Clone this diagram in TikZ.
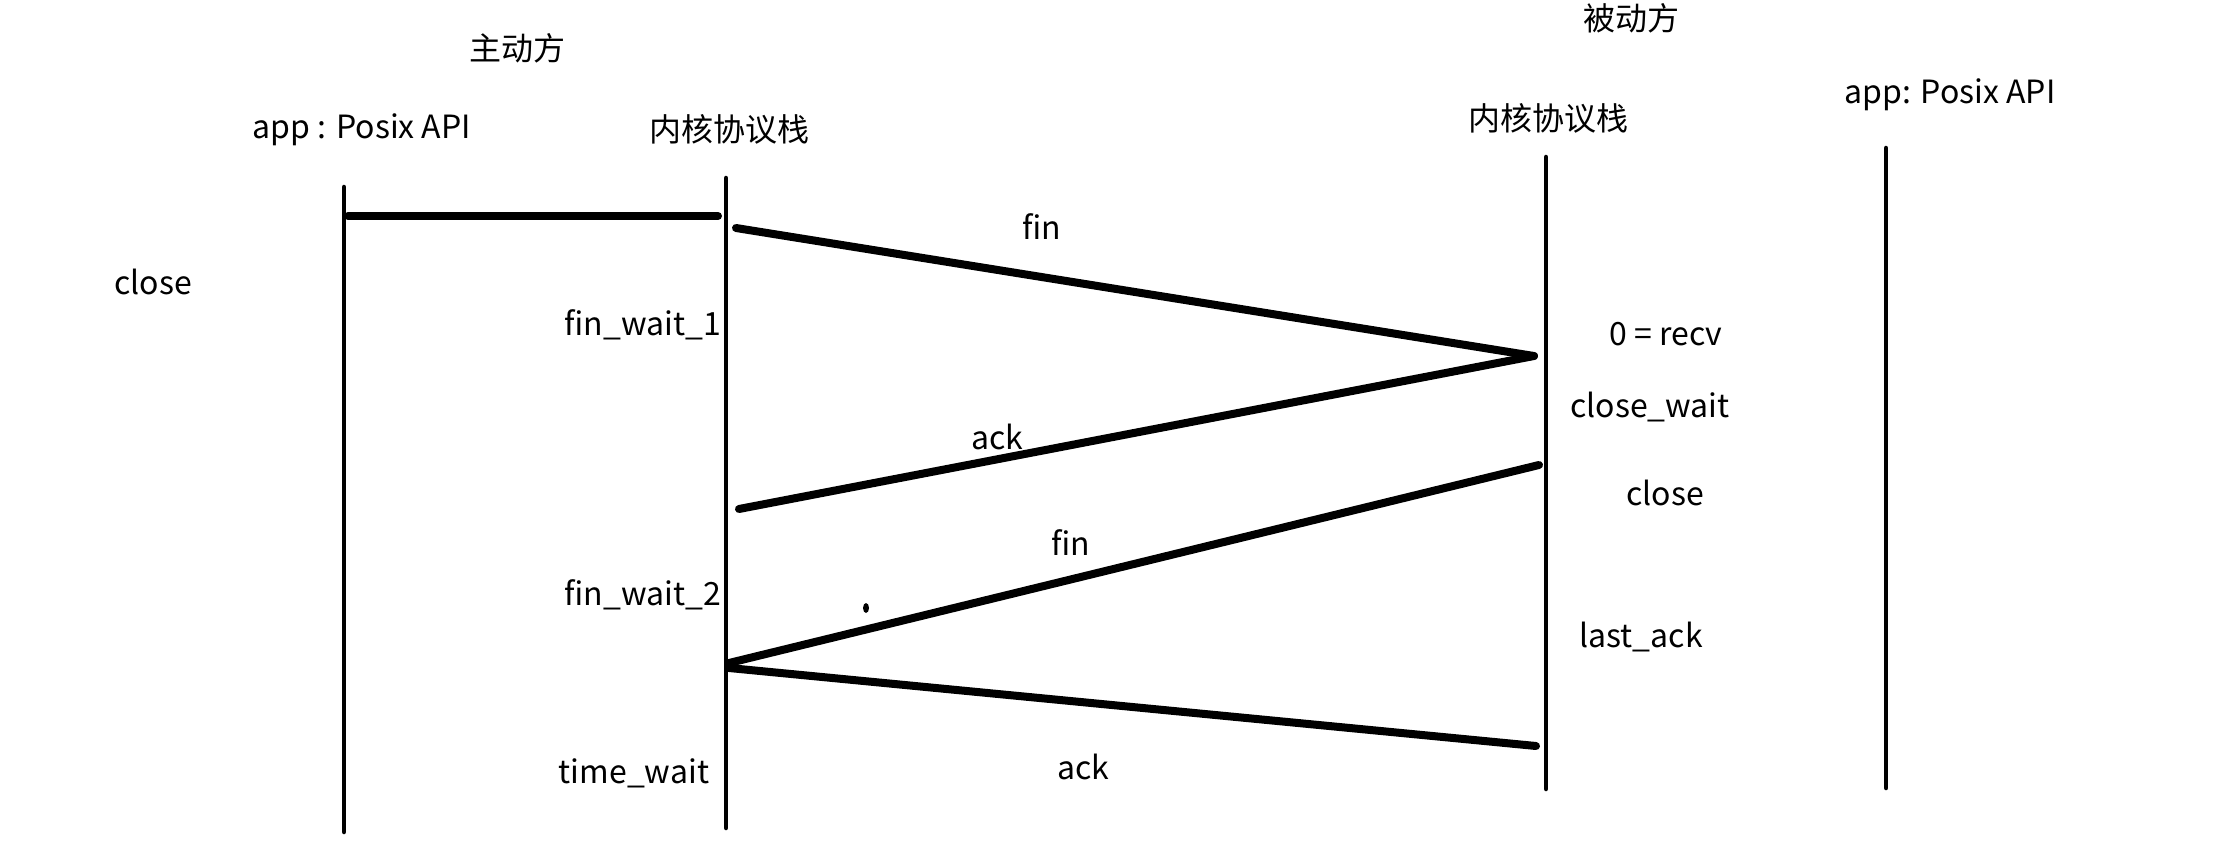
\documentclass[tikz,border=0pt]{standalone}
\usepackage{fontspec}
\setmainfont{Noto Sans CJK SC}
\begin{document}
\begin{tikzpicture}[x=1pt,y=-1pt,
  lbl/.style={inner sep=0pt, font=\fontsize{32}{36}\selectfont},
  life/.style={line width=4.5pt, line cap=round},
  msg/.style={line width=8pt, line cap=round}]
\fill[white] (0,0) rectangle (2238,850);
\useasboundingbox (0,0) rectangle (2238,850);
% headers
\node[lbl] (zd) at (517,48) {主动方};
\node[lbl] (bd) at (1631,18) {被动方};
\node[lbl] (appL) at (362,130) {app : Posix API};
\node[lbl] (kerLt) at (729,129) {内核协议栈};
\node[lbl] (kerRt) at (1548,118) {内核协议栈};
\node[lbl] (appR) at (1950,95) {app: Posix API};
% lifeline ends
\coordinate (aLtop) at (344,187); \coordinate (aLbot) at (344,832);
\coordinate (kLtop) at (726,178); \coordinate (kLbot) at (726,828);
\coordinate (kRtop) at (1546,157); \coordinate (kRbot) at (1546,789);
\coordinate (aRtop) at (1886,148); \coordinate (aRbot) at (1886,788);
\draw[life] (aLtop) -- (aLbot);
\draw[life] (kLtop) -- (kLbot);
\draw[life] (kRtop) -- (kRbot);
\draw[life] (aRtop) -- (aRbot);
% message ends
\coordinate (h1) at (348,216); \coordinate (h2) at (718,216);
\coordinate (f1a) at (736,228); \coordinate (f1b) at (1534,356);
\coordinate (a1b) at (739,509);
\coordinate (f2a) at (1539,465); \coordinate (f2b) at (729,663);
\coordinate (a2a) at (729,668); \coordinate (a2b) at (1536,746);
\draw[msg] (h1) -- (h2);
\draw[msg] (f1a) -- (f1b);
\draw[msg] (f1b) -- (a1b);
\draw[msg] (f2a) -- (f2b);
\draw[msg] (a2a) -- (a2b);
\fill (866,608) ellipse (3pt and 5pt);
% labels
\node[lbl] (cl1) at (153,282) {close};
\node[lbl] (fw1) at (643,325) {fin\_wait\_1};
\node[lbl] (fin1) at (1042,227) {fin};
\node[lbl] (recv) at (1666,334) {0 = recv};
\node[lbl] (cw) at (1650,407) {close\_wait};
\node[lbl] (ack1) at (997,437) {ack};
\node[lbl] (cl2) at (1665,493) {close};
\node[lbl] (fin2) at (1071,543) {fin};
\node[lbl] (fw2) at (643,595) {fin\_wait\_2};
\node[lbl] (la) at (1641,637) {last\_ack};
\node[lbl] (tw) at (634,773) {time\_wait};
\node[lbl] (ack2) at (1083,767) {ack};
\end{tikzpicture}
\end{document}
